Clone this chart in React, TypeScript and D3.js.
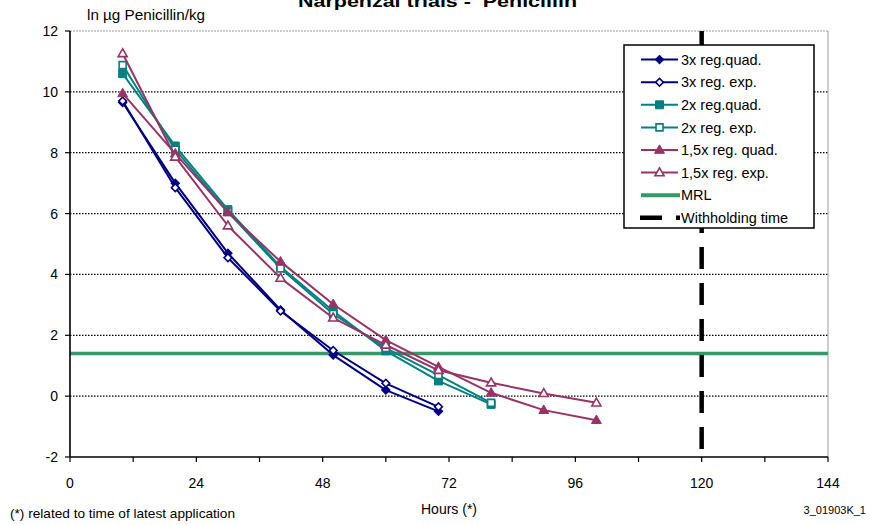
import React from "react";
import * as d3 from "d3";

// Residue depletion: natural log of penicillin concentration over time
const hours = [10, 20, 30, 40, 50, 60, 70, 80, 90, 100];

const dose3xQuad = [9.65, 7.0, 4.7, 2.83, 1.35, 0.2, -0.5];
const dose3xExp = [9.7, 6.85, 4.55, 2.8, 1.5, 0.42, -0.35];
const dose2xQuad = [10.6, 8.22, 6.13, 4.25, 2.8, 1.49, 0.5, -0.27];
const dose2xExp = [10.88, 8.1, 6.05, 4.2, 2.7, 1.58, 0.69, -0.22];
const dose15xQuad = [9.95, 7.97, 6.04, 4.42, 3.02, 1.84, 0.96, 0.11, -0.46, -0.79];
const dose15xExp = [11.26, 7.86, 5.6, 3.88, 2.57, 1.68, 0.85, 0.44, 0.09, -0.22];

const mrlValue = 1.4;
const withholdingHours = 120;

const xTicks = [0, 24, 48, 72, 96, 120, 144];
const xMinorTicks = d3.range(0, 145, 12);
const yTicks = [-2, 0, 2, 4, 6, 8, 10, 12];

const seriesNames = [
  "3x reg.quad.",
  "3x reg. exp.",
  "2x reg.quad.",
  "2x reg. exp.",
  "1,5x reg. quad.",
  "1,5x reg. exp.",
];

const NAVY = "#000080";
const TEAL = "#008080";
const PLUM = "#993366";
const GREEN = "#339966";
const FONT = "'Liberation Sans', Arial, Helvetica, sans-serif";

type Marker = "diamond" | "square" | "triangle";

const series: { name: string; values: number[]; color: string; marker: Marker; filled: boolean }[] = [
  { name: seriesNames[0], values: dose3xQuad, color: NAVY, marker: "diamond", filled: true },
  { name: seriesNames[1], values: dose3xExp, color: NAVY, marker: "diamond", filled: false },
  { name: seriesNames[2], values: dose2xQuad, color: TEAL, marker: "square", filled: true },
  { name: seriesNames[3], values: dose2xExp, color: TEAL, marker: "square", filled: false },
  { name: seriesNames[4], values: dose15xQuad, color: PLUM, marker: "triangle", filled: true },
  { name: seriesNames[5], values: dose15xExp, color: PLUM, marker: "triangle", filled: false },
];

const W = 869;
const H = 525;
const plot = { left: 70, right: 828, top: 31, bottom: 457 };

const x = d3.scaleLinear().domain([0, 144]).range([plot.left, plot.right]);
const y = d3.scaleLinear().domain([-2, 12]).range([plot.bottom, plot.top]);

const symbolPath = (m: Marker, filled: boolean) => {
  if (m === "square") return d3.symbol(d3.symbolSquare, filled ? 64 : 49)()!;
  if (m === "triangle") return d3.symbol(d3.symbolTriangle, filled ? 42 : 36)()!;
  return d3.symbol(d3.symbolSquare, filled ? 36 : 30)()!;
};

function MarkerGlyph({ m, filled, color, cx, cy }: { m: Marker; filled: boolean; color: string; cx: number; cy: number }) {
  const rot = m === "diamond" ? " rotate(45)" : "";
  const dy = m === "triangle" ? 0.5 : 0;
  return (
    <path
      d={symbolPath(m, filled)}
      transform={`translate(${cx},${cy + dy})${rot}`}
      fill={filled ? color : "#ffffff"}
      stroke={color}
      strokeWidth={filled ? 1 : 1.6}
    />
  );
}

export default function App() {
  const line = d3
    .line<number>()
    .x((_, i) => x(hours[i]))
    .y((v) => y(v));

  const gridValues = yTicks.filter((v) => v > -2 && v < 12);

  const legend = { x: 624, y: 45, w: 190, h: 183 };
  const rowY = (i: number) => 59.6 + i * 22.6;
  const sampleX0 = 641;
  const sampleX1 = 678;
  const textX = 681;

  return (
    <svg
      width={W}
      height={H}
      style={{ position: "absolute", left: 0, top: 0, background: "#ffffff" }}
      fontFamily={FONT}
    >
      <rect x={0} y={0} width={W} height={H} fill="#ffffff" />

      {/* title */}
      <text x={298} y={7} fontSize={17} fontWeight="bold" textLength={279} lengthAdjust="spacingAndGlyphs" xmlSpace="preserve">
        {"Narpenzal trials -  Penicillin"}
      </text>

      {/* y-axis title */}
      <text x={87} y={20} fontSize={14} textLength={118} lengthAdjust="spacingAndGlyphs">
        ln µg Penicillin/kg
      </text>

      {/* horizontal dotted gridlines */}
      {gridValues.map((v) => (
        <line
          key={`g${v}`}
          x1={plot.left}
          x2={plot.right}
          y1={y(v)}
          y2={y(v)}
          stroke="#000000"
          strokeWidth={1.2}
          strokeDasharray="1.5,1.5"
        />
      ))}

      {/* plot frame: top and right borders */}
      <line x1={plot.left} x2={plot.right} y1={plot.top} y2={plot.top} stroke="#999999" strokeWidth={1.2} strokeDasharray="2,1" />
      <line x1={plot.right} x2={plot.right} y1={plot.top} y2={plot.bottom} stroke="#999999" strokeWidth={1} />

      {/* MRL */}
      <line x1={plot.left} x2={plot.right} y1={y(mrlValue)} y2={y(mrlValue)} stroke={GREEN} strokeWidth={3.5} />

      {/* withholding time */}
      <line
        x1={x(withholdingHours)}
        x2={x(withholdingHours)}
        y1={plot.top}
        y2={plot.bottom - 8}
        stroke="#000000"
        strokeWidth={4.5}
        strokeDasharray="22,14"
      />

      {/* series */}
      {series.map((s) => (
        <g key={s.name}>
          <path d={line(s.values)!} fill="none" stroke={s.color} strokeWidth={2} strokeLinejoin="round" />
          {s.values.map((v, i) => (
            <MarkerGlyph key={i} m={s.marker} filled={s.filled} color={s.color} cx={x(hours[i])} cy={y(v)} />
          ))}
        </g>
      ))}

      {/* axes */}
      <line x1={plot.left} x2={plot.left} y1={plot.top} y2={plot.bottom} stroke="#000000" strokeWidth={1.6} />
      <line x1={plot.left} x2={plot.right} y1={plot.bottom} y2={plot.bottom} stroke="#000000" strokeWidth={1.6} />
      {yTicks.map((v) => (
        <g key={`yt${v}`}>
          <line x1={plot.left - 5} x2={plot.left} y1={y(v)} y2={y(v)} stroke="#000000" strokeWidth={1.2} />
          <text x={58} y={y(v)} dy="0.36em" fontSize={14} textAnchor="end">
            {v}
          </text>
        </g>
      ))}
      {xMinorTicks.map((h) => (
        <line key={`xt${h}`} x1={x(h)} x2={x(h)} y1={plot.bottom} y2={plot.bottom + 5} stroke="#000000" strokeWidth={1.2} />
      ))}
      {xTicks.map((h) => (
        <text key={`xl${h}`} x={x(h)} y={488} fontSize={14} textAnchor="middle">
          {h}
        </text>
      ))}

      <text x={449} y={514} fontSize={14} textAnchor="middle">
        Hours (*)
      </text>
      <text x={10} y={518} fontSize={13} textLength={225} lengthAdjust="spacingAndGlyphs">
        (*) related to time of latest application
      </text>
      <text x={866} y={514} fontSize={11} textAnchor="end">
        3_01903K_1
      </text>

      {/* legend */}
      <rect x={legend.x} y={legend.y} width={legend.w} height={legend.h} fill="#ffffff" stroke="#000000" strokeWidth={1.5} />
      {series.map((s, i) => (
        <g key={`lg${i}`}>
          <line x1={sampleX0} x2={sampleX1} y1={rowY(i)} y2={rowY(i)} stroke={s.color} strokeWidth={2} />
          <MarkerGlyph m={s.marker} filled={s.filled} color={s.color} cx={(sampleX0 + sampleX1) / 2} cy={rowY(i)} />
          <text x={textX} y={rowY(i)} dy="0.36em" fontSize={14.5}>
            {s.name}
          </text>
        </g>
      ))}
      <line x1={sampleX0} x2={sampleX1 + 2} y1={rowY(6)} y2={rowY(6)} stroke={GREEN} strokeWidth={4} />
      <text x={textX} y={rowY(6)} dy="0.36em" fontSize={14.5}>
        MRL
      </text>
      <line x1={640} x2={680} y1={rowY(7)} y2={rowY(7)} stroke="#000000" strokeWidth={4.5} strokeDasharray="22,14" />
      <text x={textX} y={rowY(7)} dy="0.36em" fontSize={14.5}>
        Withholding time
      </text>
    </svg>
  );
}
